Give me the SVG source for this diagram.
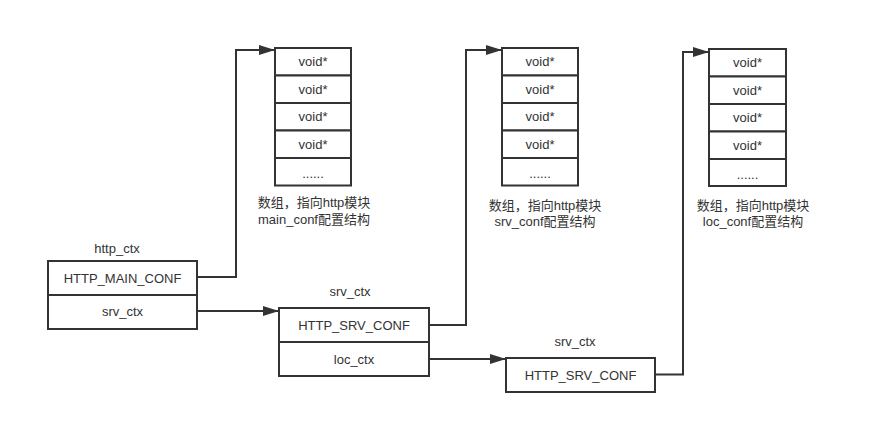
<svg xmlns="http://www.w3.org/2000/svg" width="877" height="423" viewBox="0 0 877 423">
<style>
.box{fill:#fff;stroke:#333;stroke-width:2}
.ln{fill:none;stroke:#333;stroke-width:2}
text{font-family:"Liberation Sans","Noto Sans CJK SC",sans-serif;font-size:13px;fill:#333;text-anchor:middle;dominant-baseline:central}
</style>
<defs>
<marker id="arr" markerWidth="16" markerHeight="10" refX="16" refY="5" orient="auto" markerUnits="userSpaceOnUse"><path d="M0,0 L16,5 L0,10 z" fill="#333"/></marker>
</defs>
<rect width="877" height="423" fill="#fff"/>
<g id="connectors">
<path class="ln" d="M197,277 H236 V50 H275" marker-end="url(#arr)"/>
<path class="ln" d="M197,311 H279" marker-end="url(#arr)"/>
<path class="ln" d="M429,325 H466 V50 H502" marker-end="url(#arr)"/>
<path class="ln" d="M429,359 H506" marker-end="url(#arr)"/>
<path class="ln" d="M655,374.5 H683 V52 H709" marker-end="url(#arr)"/>
</g>
<g id="array1">
<rect class="box" x="275" y="48" width="76" height="27.5"/>
<rect class="box" x="275" y="75.5" width="76" height="27.5"/>
<rect class="box" x="275" y="103" width="76" height="27.5"/>
<rect class="box" x="275" y="130.5" width="76" height="27.5"/>
<rect class="box" x="275" y="158" width="76" height="27.5"/>
<text x="313" y="61.5">void*</text>
<text x="313" y="89">void*</text>
<text x="313" y="116.5">void*</text>
<text x="313" y="144">void*</text>
<text x="313" y="173">......</text>
<text x="314" y="202">数组，指向http模块</text>
<text x="314" y="219">main_conf配置结构</text>
</g>
<g id="array2">
<rect class="box" x="502" y="48" width="76" height="27.5"/>
<rect class="box" x="502" y="75.5" width="76" height="27.5"/>
<rect class="box" x="502" y="103" width="76" height="27.5"/>
<rect class="box" x="502" y="130.5" width="76" height="27.5"/>
<rect class="box" x="502" y="158" width="76" height="27.5"/>
<text x="540" y="61.5">void*</text>
<text x="540" y="89">void*</text>
<text x="540" y="116.5">void*</text>
<text x="540" y="144">void*</text>
<text x="540" y="173">......</text>
<text x="545" y="205">数组，指向http模块</text>
<text x="545" y="221">srv_conf配置结构</text>
</g>
<g id="array3">
<rect class="box" x="709" y="49" width="77" height="27.5"/>
<rect class="box" x="709" y="76.5" width="77" height="27.5"/>
<rect class="box" x="709" y="104" width="77" height="27.5"/>
<rect class="box" x="709" y="131.5" width="77" height="27.5"/>
<rect class="box" x="709" y="159" width="77" height="27"/>
<text x="747.5" y="62.5">void*</text>
<text x="747.5" y="90">void*</text>
<text x="747.5" y="117.5">void*</text>
<text x="747.5" y="145">void*</text>
<text x="747.5" y="174">......</text>
<text x="753" y="205">数组，指向http模块</text>
<text x="753" y="221">loc_conf配置结构</text>
</g>
<g id="http_ctx">
<text x="117" y="248">http_ctx</text>
<rect class="box" x="48" y="261" width="149" height="34"/>
<rect class="box" x="48" y="295" width="149" height="34"/>
<text x="122.5" y="278">HTTP_MAIN_CONF</text>
<text x="122.5" y="311">srv_ctx</text>
</g>
<g id="srv_ctx1">
<text x="350" y="291">srv_ctx</text>
<rect class="box" x="279" y="308" width="150" height="34"/>
<rect class="box" x="279" y="342" width="150" height="34"/>
<text x="354" y="325">HTTP_SRV_CONF</text>
<text x="354" y="359">loc_ctx</text>
</g>
<g id="srv_ctx2">
<text x="575" y="341">srv_ctx</text>
<rect class="box" x="506" y="358" width="149" height="34"/>
<text x="580.5" y="375">HTTP_SRV_CONF</text>
</g>
</svg>
